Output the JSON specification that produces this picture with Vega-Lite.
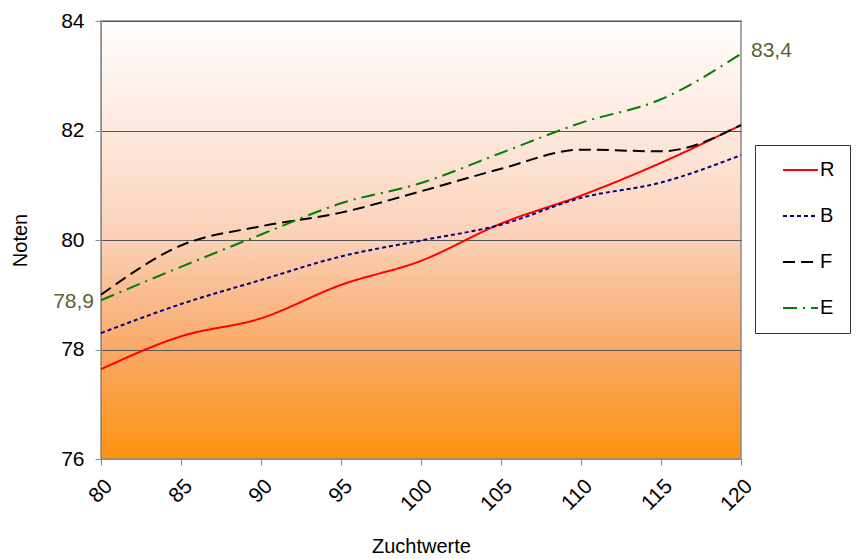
{
  "$schema": "https://vega.github.io/schema/vega-lite/v6.json",
  "width": 640,
  "height": 438,
  "autosize": "none",
  "padding": {"left": 101, "top": 21, "right": 116, "bottom": 100},
  "background": "white",
  "config": {
    "font": "Liberation Sans",
    "view": {
      "stroke": "#8a8a8a",
      "strokeWidth": 1.5,
      "fill": {
        "gradient": "linear", "x1": 0, "y1": 0, "x2": 0, "y2": 1,
        "stops": [
          {"offset": 0, "color": "#fffdfc"},
          {"offset": 0.25, "color": "#fde9de"},
          {"offset": 0.5, "color": "#fbd0b6"},
          {"offset": 0.75, "color": "#f9a866"},
          {"offset": 1, "color": "#fd930e"}
        ]
      }
    }
  },
  "datasets": {
    "lines": [
      {"x": 80, "s": "R", "y": 77.64}, {"x": 85, "s": "R", "y": 78.24}, {"x": 90, "s": "R", "y": 78.57},
      {"x": 95, "s": "R", "y": 79.18}, {"x": 100, "s": "R", "y": 79.62}, {"x": 105, "s": "R", "y": 80.30},
      {"x": 110, "s": "R", "y": 80.81}, {"x": 115, "s": "R", "y": 81.41}, {"x": 120, "s": "R", "y": 82.10},
      {"x": 80, "s": "B", "y": 78.30}, {"x": 85, "s": "B", "y": 78.83}, {"x": 90, "s": "B", "y": 79.27},
      {"x": 95, "s": "B", "y": 79.70}, {"x": 100, "s": "B", "y": 79.99}, {"x": 105, "s": "B", "y": 80.28},
      {"x": 110, "s": "B", "y": 80.77}, {"x": 115, "s": "B", "y": 81.05}, {"x": 120, "s": "B", "y": 81.55},
      {"x": 80, "s": "F", "y": 79.00}, {"x": 85, "s": "F", "y": 79.90}, {"x": 90, "s": "F", "y": 80.25},
      {"x": 95, "s": "F", "y": 80.50}, {"x": 100, "s": "F", "y": 80.89}, {"x": 105, "s": "F", "y": 81.30},
      {"x": 110, "s": "F", "y": 81.65}, {"x": 115, "s": "F", "y": 81.62}, {"x": 120, "s": "F", "y": 82.10},
      {"x": 80, "s": "E", "y": 78.90}, {"x": 85, "s": "E", "y": 79.51}, {"x": 90, "s": "E", "y": 80.10},
      {"x": 95, "s": "E", "y": 80.67}, {"x": 100, "s": "E", "y": 81.04}, {"x": 105, "s": "E", "y": 81.59},
      {"x": 110, "s": "E", "y": 82.14}, {"x": 115, "s": "E", "y": 82.57}, {"x": 120, "s": "E", "y": 83.40}
    ],
    "labels": [
      {"x": 80, "y": 78.9, "label": "78,9"},
      {"x": 120, "y": 83.4, "label": "83,4"}
    ]
  },
  "layer": [
    {
      "data": {"name": "lines"},
      "mark": {"type": "line", "interpolate": "monotone", "strokeWidth": 2},
      "encoding": {
        "x": {
          "field": "x", "type": "quantitative",
          "scale": {"domain": [80, 120], "nice": false, "zero": false},
          "axis": {
            "title": "Zuchtwerte", "values": [80, 85, 90, 95, 100, 105, 110, 115, 120],
            "grid": false, "labelAngle": -45, "labelFontSize": 21, "labelColor": "#000",
            "domainColor": "#8a8a8a", "tickColor": "#8a8a8a", "tickSize": 6, "labelPadding": 10,
            "titleFontSize": 20, "titleFontWeight": "normal", "titleColor": "#000", "titlePadding": 22
          }
        },
        "y": {
          "field": "y", "type": "quantitative",
          "scale": {"domain": [76, 84], "nice": false, "zero": false},
          "axis": {
            "title": "Noten", "values": [76, 78, 80, 82, 84],
            "grid": true, "gridColor": "#555", "gridWidth": 1,
            "labelFontSize": 21, "labelColor": "#000", "labelPadding": 11,
            "domainColor": "#8a8a8a", "tickColor": "#8a8a8a", "tickSize": 6,
            "titleFontSize": 20, "titleFontWeight": "normal", "titleColor": "#000", "titlePadding": 30
          }
        },
        "color": {
          "field": "s", "type": "nominal",
          "scale": {"domain": ["R", "B", "F", "E"], "range": ["#ff0000", "#000080", "#000000", "#008000"]},
          "legend": {
            "title": null, "orient": "none", "legendX": 654, "legendY": 124,
            "symbolType": "stroke", "symbolSize": 1225, "symbolStrokeWidth": 2,
            "labelFontSize": 20, "labelColor": "#000", "labelOffset": 1,
            "clipHeight": 20, "rowPadding": 26, "padding": 15, "symbolOffset": 12,
            "strokeColor": "#333", "fillColor": "white"
          }
        },
        "strokeDash": {
          "field": "s", "type": "nominal",
          "scale": {"domain": ["R", "B", "F", "E"], "range": [[1, 0], [4, 3], [12, 6], [14, 6, 2, 6]]},
          "legend": {
            "title": null, "orient": "none", "legendX": 654, "legendY": 124,
            "symbolType": "stroke", "symbolSize": 1225, "symbolStrokeWidth": 2,
            "labelFontSize": 20, "labelColor": "#000", "labelOffset": 1,
            "clipHeight": 20, "rowPadding": 26, "padding": 15, "symbolOffset": 12,
            "strokeColor": "#333", "fillColor": "white"
          }
        }
      }
    },
    {
      "data": {"name": "labels"},
      "transform": [{"filter": "datum.x == 80"}],
      "mark": {"type": "text", "align": "right", "baseline": "middle", "dx": -7, "dy": 2, "fontSize": 21, "color": "#5b6233"},
      "encoding": {
        "x": {"field": "x", "type": "quantitative"},
        "y": {"field": "y", "type": "quantitative"},
        "text": {"field": "label"}
      }
    },
    {
      "data": {"name": "labels"},
      "transform": [{"filter": "datum.x == 120"}],
      "mark": {"type": "text", "align": "left", "baseline": "middle", "dx": 10, "dy": -3, "fontSize": 21, "color": "#5b6233"},
      "encoding": {
        "x": {"field": "x", "type": "quantitative"},
        "y": {"field": "y", "type": "quantitative"},
        "text": {"field": "label"}
      }
    }
  ]
}
